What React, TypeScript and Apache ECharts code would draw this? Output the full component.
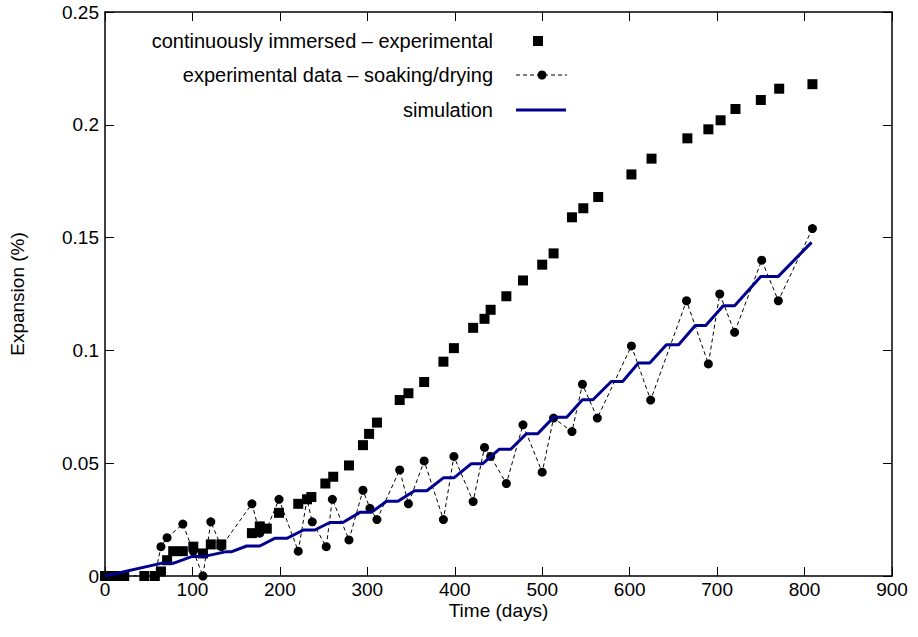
import React, { useEffect, useRef } from 'react';
import * as echarts from 'echarts';

const immersedDays = [0, 6, 11, 17, 22, 45, 57, 64, 71, 78, 89, 101, 112, 121, 133, 168, 177, 185, 199, 221, 231, 236, 252, 261, 279, 295, 302, 311, 337, 347, 365, 387, 399, 421, 434, 441, 459, 478, 500, 513, 534, 547, 564, 602, 625, 666, 690, 704, 721, 750, 771, 809];
const immersedExp = [0, 0, 0, 0, 0, 0, 0, 0.002, 0.007, 0.011, 0.011, 0.013, 0.010, 0.014, 0.014, 0.019, 0.022, 0.021, 0.028, 0.032, 0.034, 0.035, 0.041, 0.044, 0.049, 0.058, 0.063, 0.068, 0.078, 0.081, 0.086, 0.095, 0.101, 0.110, 0.114, 0.118, 0.124, 0.131, 0.138, 0.143, 0.159, 0.163, 0.168, 0.178, 0.185, 0.194, 0.198, 0.202, 0.207, 0.211, 0.216, 0.218];

const soakDays = [0, 6, 11, 17, 22, 45, 57, 64, 71, 89, 101, 112, 121, 133, 168, 177, 185, 199, 221, 231, 237, 253, 260, 279, 295, 303, 311, 337, 347, 365, 387, 399, 421, 434, 441, 459, 478, 500, 513, 534, 546, 563, 602, 624, 665, 690, 703, 720, 751, 770, 809];
const soakExp = [0, 0, 0, 0, 0, 0, 0, 0.013, 0.017, 0.023, 0.011, 0, 0.024, 0.013, 0.032, 0.019, 0.021, 0.034, 0.011, 0.034, 0.024, 0.013, 0.034, 0.016, 0.038, 0.030, 0.025, 0.047, 0.032, 0.051, 0.025, 0.053, 0.033, 0.057, 0.053, 0.041, 0.067, 0.046, 0.070, 0.064, 0.085, 0.070, 0.102, 0.078, 0.122, 0.094, 0.125, 0.108, 0.140, 0.122, 0.154];

const simDays = [0, 64, 78, 99, 112, 139, 145, 162, 177, 194, 208, 227, 240, 257, 272, 292, 305, 322, 335, 354, 368, 387, 399, 419, 432, 451, 464, 482, 495, 513, 528, 546, 558, 579, 592, 610, 623, 642, 656, 675, 687, 707, 720, 750, 770, 808];
const simExp = [0, 0.0056, 0.0056, 0.0086, 0.0086, 0.0108, 0.0108, 0.0133, 0.0133, 0.0167, 0.0167, 0.0204, 0.0204, 0.0237, 0.0237, 0.0283, 0.0283, 0.0331, 0.0331, 0.0378, 0.0378, 0.0435, 0.0435, 0.0498, 0.0498, 0.0562, 0.0562, 0.0631, 0.0631, 0.0704, 0.0704, 0.0781, 0.0781, 0.0862, 0.0862, 0.0944, 0.0944, 0.1025, 0.1025, 0.111, 0.111, 0.1198, 0.1198, 0.1328, 0.1328, 0.1479];

const xTicks = { min: 0, max: 900, interval: 100 };
const yTicks = { min: 0, max: 0.25, interval: 0.05 };

const seriesNames = [
  'continuously immersed – experimental',
  'experimental data – soaking/drying',
  'simulation',
];

const FONT = '"Liberation Sans", Arial, Helvetica, sans-serif';
const SIM_COLOR = '#00008f';

export default function App() {
  const ref = useRef<HTMLDivElement>(null);
  useEffect(() => {
    const chart = echarts.init(ref.current!, null, { renderer: 'svg' });
    const axisLine = { show: true, onZero: false, lineStyle: { color: '#000', width: 1.5 } };
    const tick = { show: true, inside: true, length: 9, lineStyle: { color: '#000', width: 1 } };
    const label = { color: '#000', fontSize: 19, fontFamily: FONT };
    const legendX = 493;
    const rows = [41, 75, 110];
    chart.setOption({
      animation: false,
      backgroundColor: '#fff',
      grid: { left: 105, right: 26, top: 12, bottom: 61, containLabel: false },
      xAxis: [
        {
          type: 'value', position: 'bottom', ...xTicks,
          axisLine, axisTick: tick, splitLine: { show: false },
          axisLabel: { ...label, margin: 5, lineHeight: 16 },
          name: 'Time (days)', nameLocation: 'middle', nameGap: 26, nameMoveOverlap: false,
          nameTextStyle: { color: '#000', fontSize: 19, fontFamily: FONT, lineHeight: 16 },
        },
        {
          type: 'value', position: 'top', ...xTicks,
          axisLine, axisTick: tick, splitLine: { show: false },
          axisLabel: { show: false },
        },
      ],
      yAxis: [
        {
          type: 'value', position: 'left', ...yTicks,
          axisLine, axisTick: tick, splitLine: { show: false },
          axisLabel: { ...label, margin: 6 },
          name: 'Expansion (%)', nameLocation: 'middle', nameGap: 78, nameRotate: 90, nameMoveOverlap: false,
          nameTextStyle: { color: '#000', fontSize: 19, fontFamily: FONT },
        },
        {
          type: 'value', position: 'right', ...yTicks,
          axisLine, axisTick: tick, splitLine: { show: false },
          axisLabel: { show: false },
        },
      ],
      series: [
        {
          name: seriesNames[0], type: 'scatter', symbol: 'rect', symbolSize: 10,
          itemStyle: { color: '#000', opacity: 1 },
          data: immersedDays.map((d, i) => [d, immersedExp[i]]),
          z: 2,
        },
        {
          name: seriesNames[1], type: 'line', symbol: 'circle', symbolSize: 9, showSymbol: true,
          itemStyle: { color: '#000', opacity: 1 },
          lineStyle: { color: '#000', width: 1, type: [4, 3] },
          data: soakDays.map((d, i) => [d, soakExp[i]]),
          z: 3,
        },
        {
          name: seriesNames[2], type: 'line', symbol: 'none',
          lineStyle: { color: SIM_COLOR, width: 3 },
          data: simDays.map((d, i) => [d, simExp[i]]),
          z: 4,
        },
      ],
      graphic: [
        ...seriesNames.map((n, i) => ({
          type: 'text', x: legendX, y: rows[i], z: 10,
          style: { text: n, fill: '#000', font: `20px ${FONT}`, align: 'right', verticalAlign: 'middle', textAlign: 'right', textVerticalAlign: 'middle' },
        })),
        { type: 'rect', z: 10, shape: { x: 533, y: rows[0] - 5, width: 10, height: 10 }, style: { fill: '#000' } },
        { type: 'line', z: 10, shape: { x1: 516, y1: rows[1], x2: 567, y2: rows[1] }, style: { stroke: '#000', lineWidth: 1, lineDash: [4, 3] } },
        { type: 'circle', z: 11, shape: { cx: 542, cy: rows[1], r: 4.5 }, style: { fill: '#000' } },
        { type: 'line', z: 10, shape: { x1: 516, y1: rows[2], x2: 566, y2: rows[2] }, style: { stroke: SIM_COLOR, lineWidth: 3 } },
      ],
    });
    return () => chart.dispose();
  }, []);
  return <div ref={ref} style={{ position: 'absolute', left: 0, top: 0, width: 918, height: 637 }} />;
}
